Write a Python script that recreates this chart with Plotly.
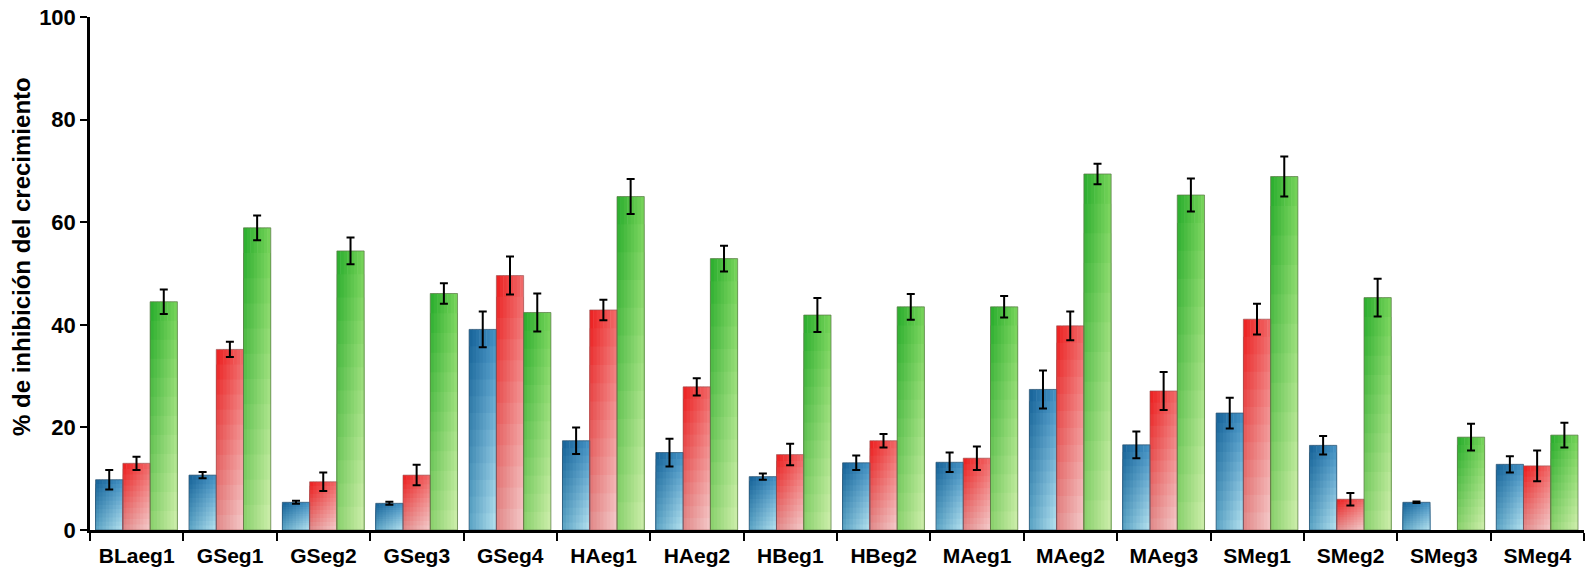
import plotly.graph_objects as go

categories = ["BLaeg1", "GSeg1", "GSeg2", "GSeg3", "GSeg4", "HAeg1", "HAeg2", "HBeg1",
              "HBeg2", "MAeg1", "MAeg2", "MAeg3", "SMeg1", "SMeg2", "SMeg3", "SMeg4"]
blue = [9.8, 10.7, 5.4, 5.2, 39.1, 17.4, 15.1, 10.4, 13.1, 13.2, 27.4, 16.6, 22.8, 16.5, 5.4, 12.8]
blue_err = [1.9, 0.6, 0.3, 0.3, 3.5, 2.6, 2.7, 0.6, 1.4, 1.9, 3.7, 2.6, 3.0, 1.8, 0.15, 1.6]
red = [13.0, 35.2, 9.4, 10.7, 49.6, 42.9, 27.9, 14.7, 17.4, 14.0, 39.8, 27.1, 41.1, 6.0, None, 12.5]
red_err = [1.3, 1.5, 1.8, 2.0, 3.7, 2.0, 1.7, 2.1, 1.3, 2.3, 2.8, 3.7, 3.0, 1.2, 0, 3.0]
green = [44.5, 58.9, 54.4, 46.1, 42.4, 65.0, 52.9, 41.9, 43.5, 43.5, 69.4, 65.3, 68.9, 45.3, 18.1, 18.5]
green_err = [2.4, 2.4, 2.6, 2.0, 3.7, 3.4, 2.5, 3.3, 2.5, 2.1, 2.0, 3.2, 3.9, 3.7, 2.6, 2.4]

yticks = [0, 20, 40, 60, 80, 100]
y_title = "% de inhibición del crecimiento"

# corner colours: top-left, top-right, bottom-left, bottom-right
series = [
    (blue, blue_err, ((22, 98, 152), (66, 145, 196), (92, 165, 198), (185, 228, 240)), "rgba(40,80,110,0.7)"),
    (red, red_err, ((238, 28, 28), (240, 105, 105), (225, 140, 140), (245, 205, 205)), "rgba(150,80,80,0.6)"),
    (green, green_err, ((38, 172, 44), (118, 212, 88), (140, 210, 110), (210, 240, 175)), "rgba(90,120,70,0.7)"),
]

BAR_W = 0.292
GROUP_LEFT = -0.44
NH = 8   # horizontal slices
NV = 12  # vertical layers


def mix(a, b, t):
    return tuple(a[k] + (b[k] - a[k]) * t for k in range(3))


def bilinear(c, u, v):
    top = mix(c[0], c[1], u)
    bot = mix(c[2], c[3], u)
    r, g, b = mix(top, bot, v)
    return f"rgb({int(r)},{int(g)},{int(b)})"


fig = go.Figure()

for k, (vals, errs, corners, edge) in enumerate(series):
    left = GROUP_LEFT + k * BAR_W
    sw = BAR_W / NH
    for j in range(NV):
        f = 1 - j / NV
        v = (j + 0.5) / NV
        heights = [None if val is None else val * f for val in vals]
        for i in range(NH):
            u = (i + 0.5) / NH
            w = sw * 1.15 if i < NH - 1 else sw
            fig.add_trace(go.Bar(
                x=categories, y=heights, offset=left + i * sw, width=w,
                marker=dict(color=bilinear(corners, u, v), line=dict(width=0)),
                showlegend=False, hoverinfo="skip"))

for k, (vals, errs, corners, edge) in enumerate(series):
    left = GROUP_LEFT + k * BAR_W
    fig.add_trace(go.Bar(
        x=categories, y=vals, offset=left, width=BAR_W,
        marker=dict(color="rgba(0,0,0,0)", line=dict(color=edge, width=1)),
        error_y=dict(type="data", array=errs, color="black", thickness=2, width=4, visible=True),
        showlegend=False))

fig.update_layout(
    barmode="overlay",
    width=1595, height=571,
    margin=dict(l=90, r=11, t=17, b=41),
    paper_bgcolor="white", plot_bgcolor="white",
    font=dict(family="Liberation Sans, Arial, sans-serif", color="black"),
    showlegend=False,
    annotations=[dict(
        text=y_title, textangle=-90, xref="paper", yref="paper",
        x=-0.0462, y=0.534, xanchor="center", yanchor="middle", showarrow=False,
        font=dict(size=24, weight="bold", color="black"))],
)
fig.update_xaxes(
    type="category", categoryorder="array", categoryarray=categories,
    range=[-0.5, len(categories) - 0.5], automargin=False,
    showline=True, linecolor="black", linewidth=2.5, mirror=False,
    ticks="outside", tickson="boundaries", ticklen=8, tickwidth=2, tickcolor="black",
    tickfont=dict(size=21, weight="bold"), showgrid=False, ticklabelstandoff=5,
)
fig.update_yaxes(
    range=[0, 100], tickvals=yticks, ticktext=[str(t) for t in yticks],
    showline=True, linecolor="black", linewidth=2.5, automargin=False,
    ticks="outside", ticklen=7, tickwidth=2, tickcolor="black",
    tickfont=dict(size=22, weight="bold"), showgrid=False, zeroline=False,
)

fig.write_html("out.html", config={"displayModeBar": False},
               post_script="document.body.style.margin='0';")
